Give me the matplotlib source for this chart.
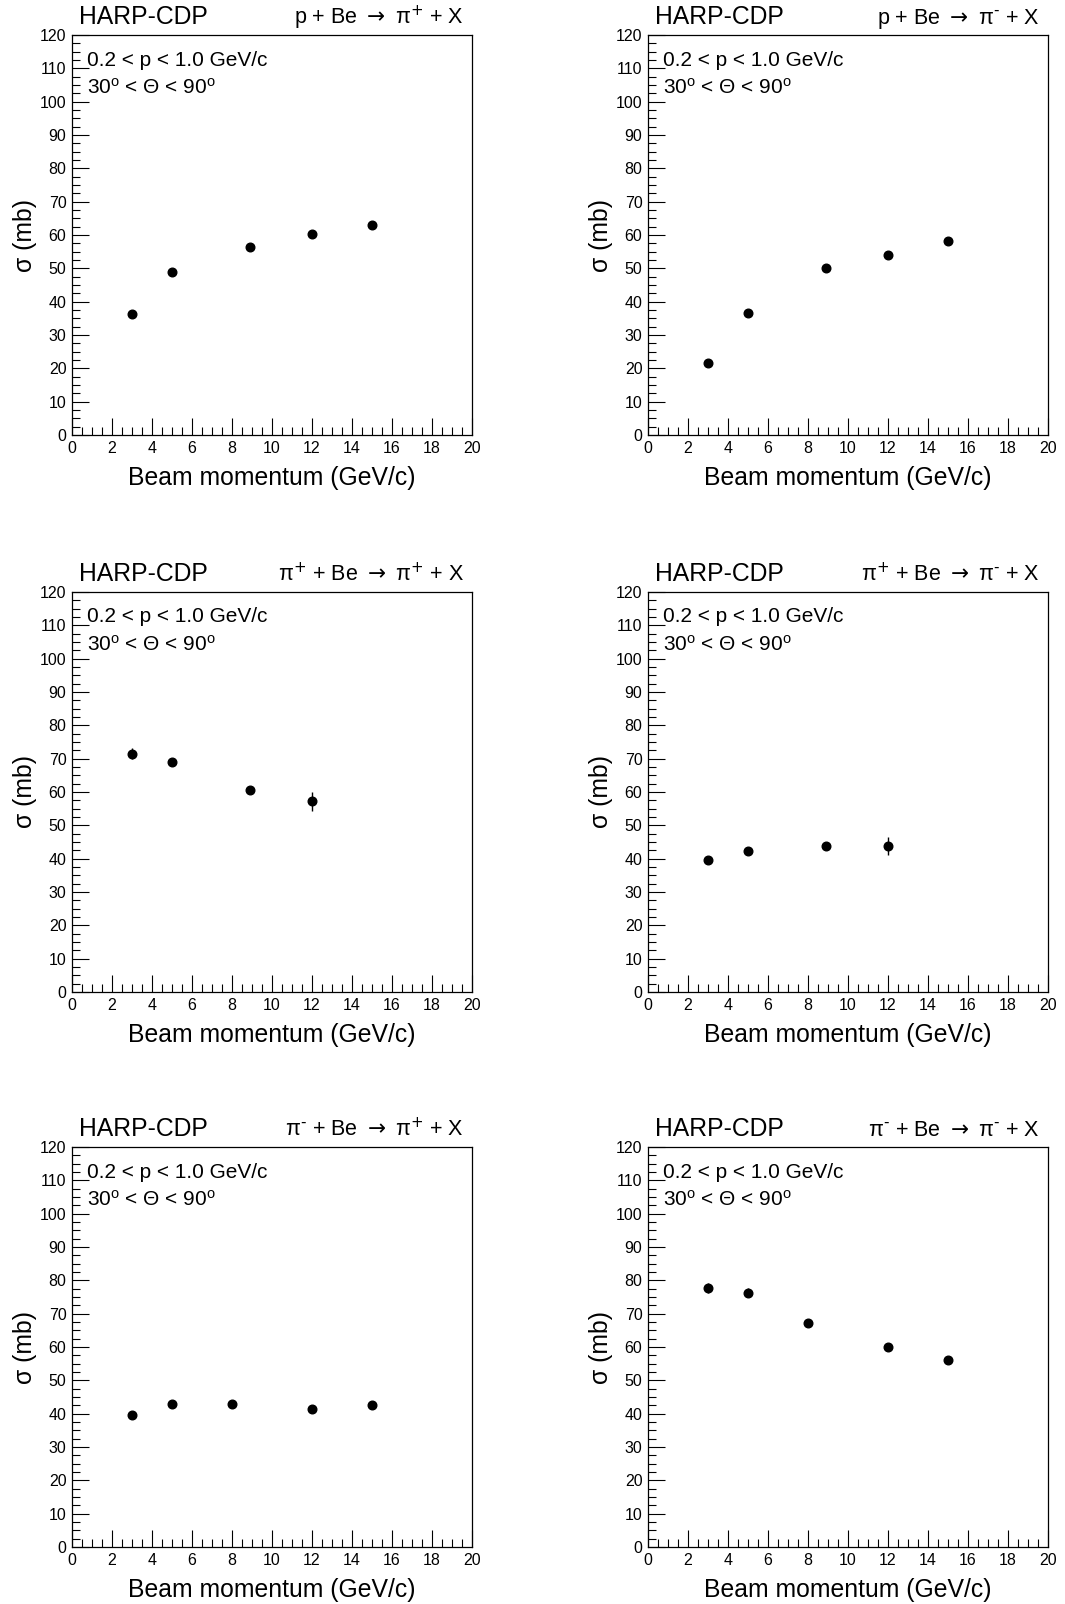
import matplotlib
matplotlib.use("Agg")
import matplotlib.pyplot as plt
from matplotlib.ticker import MultipleLocator

plt.rcParams['font.family'] = ['Liberation Sans', 'DejaVu Sans']
plt.rcParams['mathtext.fontset'] = 'custom'
plt.rcParams['mathtext.rm'] = 'Liberation Sans'
plt.rcParams['mathtext.it'] = 'Liberation Sans:italic'
plt.rcParams['mathtext.bf'] = 'Liberation Sans:bold'

# beam momenta (GeV/c), cross sections (mb) and errors, one set per panel
p_pip_x = [3, 5, 8.9, 12, 15]
p_pip_y = [36.3, 48.9, 56.5, 60.4, 63.0]
p_pip_e = [0.8, 0.8, 0.8, 0.8, 0.8]

p_pim_x = [3, 5, 8.9, 12, 15]
p_pim_y = [21.5, 36.7, 50.0, 54.1, 58.3]
p_pim_e = [0.6, 0.8, 0.8, 0.8, 0.8]

pip_pip_x = [3, 5, 8.9, 12]
pip_pip_y = [71.5, 69.0, 60.6, 57.2]
pip_pip_e = [1.6, 1.2, 1.0, 2.9]

pip_pim_x = [3, 5, 8.9, 12]
pip_pim_y = [39.5, 42.3, 43.7, 43.8]
pip_pim_e = [0.9, 0.9, 0.9, 2.7]

pim_pip_x = [3, 5, 8, 12, 15]
pim_pip_y = [39.6, 42.9, 43.0, 41.5, 42.5]
pim_pip_e = [0.9, 0.9, 0.9, 0.9, 0.9]

pim_pim_x = [3, 5, 8, 12, 15]
pim_pim_y = [77.7, 76.3, 67.3, 59.9, 56.1]
pim_pim_e = [1.6, 1.3, 1.0, 1.0, 1.0]

PLUS = r"$^{+}$"
MINUS = "$^{\u2010}$"
ARROW = r"${\rightarrow}$"
reactions = [
    "p + Be " + ARROW + " π" + PLUS + " + X",
    "p + Be " + ARROW + " π" + MINUS + " + X",
    "π" + PLUS + " + Be " + ARROW + " π" + PLUS + " + X",
    "π" + PLUS + " + Be " + ARROW + " π" + MINUS + " + X",
    "π" + MINUS + " + Be " + ARROW + " π" + PLUS + " + X",
    "π" + MINUS + " + Be " + ARROW + " π" + MINUS + " + X",
]

panels = [
    (p_pip_x, p_pip_y, p_pip_e),
    (p_pim_x, p_pim_y, p_pim_e),
    (pip_pip_x, pip_pip_y, pip_pip_e),
    (pip_pim_x, pip_pim_y, pip_pim_e),
    (pim_pip_x, pim_pip_y, pim_pip_e),
    (pim_pim_x, pim_pim_y, pim_pim_e),
]

W, H = 1065, 1604
fig = plt.figure(figsize=(W / 100, H / 100), dpi=100)

lefts = [72, 648]
tops = [35, 592, 1147]

for i, (xs, ys, es) in enumerate(panels):
    col = i % 2
    row = i // 2
    x0 = lefts[col] / W
    y0 = 1 - (tops[row] + 400) / H
    ax = fig.add_axes([x0, y0, 400 / W, 400 / H])

    ax.errorbar(xs, ys, yerr=es, fmt='o', color='black', ms=6.2,
                elinewidth=1.0, capsize=0, zorder=3)

    ax.set_xlim(0, 20)
    ax.set_ylim(0, 120)
    ax.xaxis.set_major_locator(MultipleLocator(2))
    ax.xaxis.set_minor_locator(MultipleLocator(0.5))
    ax.yaxis.set_major_locator(MultipleLocator(10))
    ax.yaxis.set_minor_locator(MultipleLocator(2.5))
    ax.tick_params(which='both', direction='in', top=False, right=False,
                   color='black', width=0.8)
    ax.tick_params(which='major', length=12, labelsize=11.5, pad=4)
    ax.tick_params(which='minor', length=6)
    for s in ax.spines.values():
        s.set_linewidth(0.9)

    ax.text(0.5, -0.125, "Beam momentum (GeV/c)", transform=ax.transAxes,
            fontsize=17.8, ha='center', va='baseline')
    ax.text(-0.1175, 0.5, "σ (mb)", transform=ax.transAxes, rotation=90,
            fontsize=17.8, ha='center', va='center')

    ax.text(0.018, 1.0275, "HARP-CDP", transform=ax.transAxes,
            fontsize=17.8, ha='left', va='baseline')
    ax.text(0.98, 1.0275, reactions[i], transform=ax.transAxes,
            fontsize=15.5, ha='right', va='baseline',
            math_fontfamily='dejavusans')

    ax.text(0.038, 0.9375, "0.2 < p < 1.0 GeV/c", transform=ax.transAxes,
            fontsize=15, ha='left', va='center')
    ax.text(0.038, 0.869, r"30$^{\mathrm{o}}$ < Θ < 90$^{\mathrm{o}}$",
            transform=ax.transAxes, fontsize=15, ha='left', va='center')

fig.savefig("out.png", dpi=100)
